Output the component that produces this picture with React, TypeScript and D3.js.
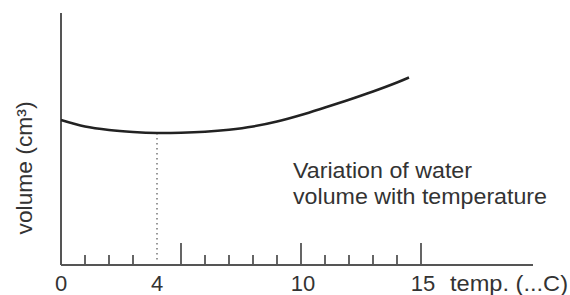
import React from "react";
import * as d3 from "d3";

// temperature (°C) vs volume (arbitrary units, axis has no value ticks)
const temps = [0, 1, 2, 3, 4, 5, 6, 7, 8, 9, 10, 11, 12, 13, 14, 14.5];
const volumes = [58, 55.4, 54, 53.2, 52.8, 52.9, 53.3, 54.1, 55.4, 57.4, 60, 63, 66.1, 69.4, 73, 75];
const tickLabels = [0, 4, 10, 15];
const majorTicks = [5, 10, 15];
const minorTicks = [1, 2, 3, 6, 7, 8, 9, 11, 12, 13, 14];
const minTemp = 4;

const W = 570;
const H = 295;

export default function App() {
  const x = d3.scaleLinear().domain([0, 15]).range([61, 421]);
  const y = d3.scaleLinear().domain([0, 100]).range([265, 15]);

  const points = temps.map((t, i) => [t, volumes[i]] as [number, number]);
  const line = d3
    .line<[number, number]>()
    .x((d) => x(d[0]))
    .y((d) => y(d[1]))
    .curve(d3.curveCatmullRom);

  const minVol = volumes[temps.indexOf(minTemp)];
  const font = "'Liberation Sans', Arial, sans-serif";
  const ink = "#333";

  return (
    <svg
      width={W}
      height={H}
      style={{ position: "absolute", left: 0, top: 0, background: "#fff" }}
      fontFamily={font}
    >
      {/* axes */}
      <line x1={x(0)} x2={x(0)} y1={y(0)} y2={13} stroke="#555" strokeWidth={2} />
      <line x1={x(0)} x2={533} y1={y(0)} y2={y(0)} stroke="#555" strokeWidth={2} />

      {minorTicks.map((t) => (
        <line key={"m" + t} x1={x(t)} x2={x(t)} y1={y(0)} y2={y(0) - 10} stroke="#555" strokeWidth={1.8} />
      ))}
      {majorTicks.map((t) => (
        <line key={"M" + t} x1={x(t)} x2={x(t)} y1={y(0)} y2={y(0) - 22} stroke="#555" strokeWidth={1.8} />
      ))}

      {/* dotted drop at the minimum */}
      <line
        x1={x(minTemp)}
        x2={x(minTemp)}
        y1={y(minVol)}
        y2={y(0) - 2}
        stroke="#555"
        strokeWidth={1.2}
        strokeDasharray="1.5 3.5"
      />

      {/* curve */}
      <path d={line(points) ?? ""} fill="none" stroke="#222" strokeWidth={2.5} />

      {/* tick labels */}
      {tickLabels.map((t) => (
        <text key={"l" + t} x={x(t) + (t >= 10 ? 2 : 0)} y={291} textAnchor="middle" fontSize={22} fill={ink}>
          {t}
        </text>
      ))}
      <text x={450} y={291} fontSize={22} fill={ink} textLength={118} lengthAdjust="spacingAndGlyphs">
        temp. (...C)
      </text>

      {/* y label */}
      <text
        transform="translate(32,168) rotate(-90)"
        textAnchor="middle"
        fontSize={22}
        fill={ink}
        textLength={133}
        lengthAdjust="spacingAndGlyphs"
      >
        volume (cm³)
      </text>

      {/* annotation */}
      <text x={293} y={178} fontSize={22} fill={ink} textLength={179} lengthAdjust="spacingAndGlyphs">
        Variation of water
      </text>
      <text x={293} y={204} fontSize={22} fill={ink} textLength={254} lengthAdjust="spacingAndGlyphs">
        volume with temperature
      </text>
    </svg>
  );
}
